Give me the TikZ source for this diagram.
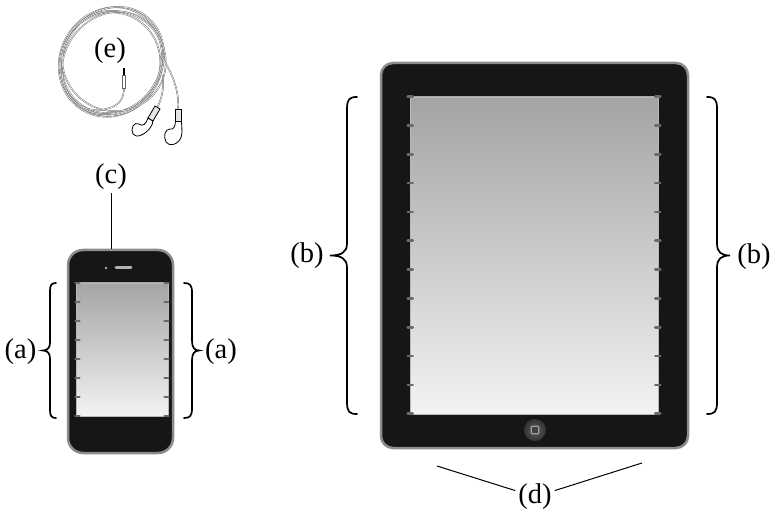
\documentclass[tikz,border=0pt]{standalone}
\usepackage{fontspec}
\setmainfont{Liberation Serif}
\usetikzlibrary{calc}

\definecolor{bodyblack}{HTML}{161616}
\definecolor{rim}{HTML}{8C8C8C}
\definecolor{screentop}{HTML}{A4A4A4}
\definecolor{screenbot}{HTML}{F3F3F3}
\definecolor{tickgray}{HTML}{6A6A6A}
\definecolor{cable}{HTML}{666666}

% vertical curly brace: x, top y, bottom y, side (+1: tip left, -1: tip right), curl, tip
\newcommand\devbrace[6]{%
  \pgfmathsetmacro\bmid{(#2+#3)/2}%
  \pgfmathsetmacro\bcx{#1+(#4)*(#5)}%
  \pgfmathsetmacro\btx{#1-(#4)*(#6)}%
  \pgfmathsetmacro\bcurl{#5+2}%
  \draw[bracestyle] (\bcx,#2)
    .. controls ({#1+0.25*(#4)*(#5)},#2) and (#1,{#2+2}) .. (#1,{#2+\bcurl})
    -- (#1,{\bmid-\bcurl})
    .. controls (#1,{\bmid-3}) and ({#1-0.35*(#4)*(#6)},\bmid) .. (\btx,\bmid)
    .. controls ({#1-0.35*(#4)*(#6)},\bmid) and (#1,{\bmid+3}) .. (#1,{\bmid+\bcurl})
    -- (#1,{#3-\bcurl})
    .. controls (#1,{#3-2}) and ({#1+0.25*(#4)*(#5)},#3) .. (\bcx,#3);%
}

\tikzset{
  device/.style={draw=rim, line width=2.5, fill=bodyblack, inner sep=0},
  screen/.style={top color=screentop, bottom color=screenbot, draw=gray!55, line width=0.6, inner sep=0},
  tickmark/.style={draw=tickgray, line width=2.6, line cap=round},
  lbl/.style={font=\fontsize{28.5}{32}\selectfont, inner sep=3},
  lead/.style={line width=1},
  bracestyle/.style={line width=1.7, line cap=round},
  wire/.style={draw=cable, double=white, double distance=0.55, line width=0.45},
  budline/.style={draw=black, line width=0.8, fill=white},
}

\begin{document}
\begin{tikzpicture}[x=1pt,y=-1pt]
\useasboundingbox (0,0) rectangle (773,518);

% ---------- tablet ----------
\node[device, rounded corners=12, minimum width=307, minimum height=385] (ipad) at (534.5,255.5) {};
\node[screen, minimum width=248, minimum height=317] (ipadscreen) at (534,255.5) {};
\foreach \i in {0,...,11} {
  \draw[tickmark] ($(ipadscreen.north west)+(-2,28.82*\i)$) -- ++(5,0);
  \draw[tickmark] ($(ipadscreen.north east)+(2,28.82*\i)$) -- ++(-5,0);
}
\node[circle, inner color=black!62, outer color=black!80, minimum size=22, inner sep=0] (home) at (535,430) {};
\node[draw=gray!75, line width=1.3, fill=black!75, minimum size=7.5, rounded corners=1, inner sep=0] (homekey) at (home) {};

% ---------- phone ----------
\node[device, rounded corners=15, minimum width=105, minimum height=203] (iphone) at (120.5,351.5) {};
\node[screen, minimum width=92, minimum height=133] (iphonescreen) at (122,349.5) {};
\foreach \i in {0,...,7} {
  \draw[tickmark, line width=1.8] ($(iphonescreen.north west)+(-0.5,19*\i)$) -- ++(4.5,0);
  \draw[tickmark, line width=1.8] ($(iphonescreen.north east)+(0.5,19*\i)$) -- ++(-4.5,0);
}
\draw[line width=3, line cap=round, draw=gray!60] (116,268) -- (131,268);
\fill[gray!70] (106,268) circle (1.3);

% ---------- earphones ----------
\draw[wire] (111,62) ellipse [x radius=51, y radius=56, rotate=-30];
\draw[wire] (113,60) ellipse [x radius=49, y radius=55, rotate=-35];
\draw[wire] (110,64) ellipse [x radius=50, y radius=52, rotate=-25];
\draw[wire] (112,63) ellipse [x radius=47, y radius=54, rotate=-40];
\draw[wire] (114,61) ellipse [x radius=52, y radius=50, rotate=-20];
% leads to the buds
\draw[wire] (160,55) .. controls (170,68) and (180,90) .. (178,109);
\draw[wire] (163,75) .. controls (164,92) and (161,100) .. (157,108);
% jack
\draw[wire] (124,88) .. controls (124,100) and (118,108) .. (100,110) .. controls (85,111) and (74,104) .. (68,94);
\draw[line width=1.6] (124,68) -- (124,75);
\draw[draw=cable, fill=white, line width=0.5] (122.5,75) rectangle (125.5,88);
% left bud
\draw[budline] (148,118) .. controls (146,124) and (143,127) .. (139,124)
  .. controls (134,121) and (130,129) .. (133,134)
  .. controls (136,139) and (146,134) .. (150,128)
  .. controls (152,125) and (153,123) .. (153,121) -- cycle;
\draw[budline, fill=gray!20] (155,106) -- (160,109) -- (153,121) -- (148,118) -- cycle;
% right bud
\draw[budline] (175.5,121) .. controls (175.5,127) and (173,130) .. (170,129)
  .. controls (165,129) and (163,136) .. (166,142)
  .. controls (169,147) and (179,145) .. (181.5,136)
  .. controls (182.5,131) and (181.5,125) .. (181.5,121) -- cycle;
\draw[budline, fill=gray!20] (175.5,109) rectangle (181.5,121);

% ---------- labels ----------
\node[lbl] (le) at (110,51) {(e)};
\node[lbl] (lc) at (111,177) {(c)};
\draw[lead] (lc.south) -- (lc.south |- iphone.north);

\devbrace{50}{283}{418}{1}{6}{7}
\devbrace{192}{283}{418}{-1}{8}{7}
\node[lbl] (la1) at (20.5,352) {(a)};
\node[lbl] (la2) at (221,352) {(a)};

\devbrace{347}{97}{414}{1}{10}{17}
\devbrace{717}{97}{414}{-1}{10}{13}
\node[lbl] (lb1) at (307,256) {(b)};
\node[lbl] (lb2) at (754,257) {(b)};

\node[lbl] (ld) at (535,497) {(d)};
\coordinate (dA) at (437,466);
\coordinate (dD) at (642,463);
\draw[lead] (dA) -- (ld.162);
\draw[lead] (ld.18) -- (dD);
\end{tikzpicture}
\end{document}
